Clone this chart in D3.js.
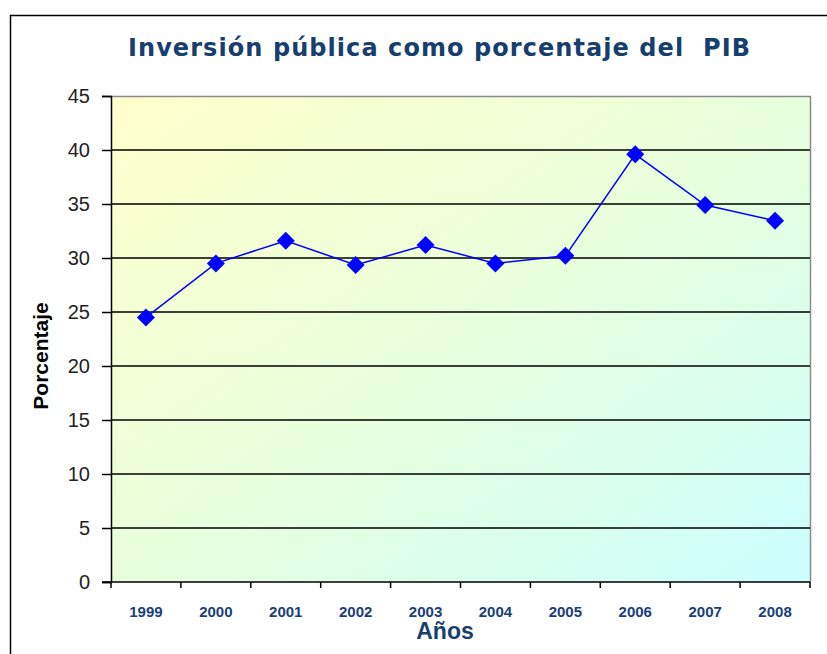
<!DOCTYPE html>
<html><head><meta charset="utf-8">
<script src="https://cdn.jsdelivr.net/npm/d3@7"></script>
<style>body{margin:0;background:#fff}svg{display:block}</style>
</head><body>
<svg id="c" width="827" height="654"></svg>
<script>
const years = ["1999","2000","2001","2002","2003","2004","2005","2006","2007","2008"];
const values = [24.5, 29.5, 31.6, 29.35, 31.2, 29.5, 30.2, 39.6, 34.9, 33.45];
const yTicks = [0,5,10,15,20,25,30,35,40,45];

const svg = d3.select("#c");
const m = {left:111, right:810, top:96, bottom:582};

// outer frame
svg.append("rect").attr("x",10.5).attr("y",15.5).attr("width",840).attr("height",700)
  .attr("fill","#fff").attr("stroke","#000").attr("stroke-width",1.5);

const defs = svg.append("defs");
const g = defs.append("linearGradient").attr("id","bg")
  .attr("x1","0").attr("y1","0").attr("x2","1").attr("y2","1");
g.append("stop").attr("offset","0").attr("stop-color","#ffffcc");
g.append("stop").attr("offset","0.5").attr("stop-color","#e8ffdc");
g.append("stop").attr("offset","1").attr("stop-color","#ccffff");

const x = d3.scaleBand().domain(years).range([m.left, m.right]);
const y = d3.scaleLinear().domain([0,45]).range([m.bottom, m.top]);

svg.append("rect").attr("x",m.left).attr("y",m.top).attr("width",m.right-m.left)
  .attr("height",m.bottom-m.top).attr("fill","url(#bg)");
// gray border top/right
svg.append("path").attr("d",`M${m.left},${m.top+0.5}H${m.right+0.5}V${m.bottom}`)
  .attr("fill","none").attr("stroke","#8a8a8a").attr("stroke-width",1.5);

// gridlines
svg.append("g").selectAll("line").data(yTicks.filter(d=>d>0 && d<45)).join("line")
  .attr("x1",m.left).attr("x2",m.right).attr("y1",d=>y(d)).attr("y2",d=>y(d))
  .attr("stroke","#000").attr("stroke-width",1.5);

// y axis
const ya = svg.append("g").attr("transform",`translate(${m.left},0)`)
  .call(d3.axisLeft(y).tickValues(yTicks).tickSize(9).tickPadding(12));
ya.select(".domain").attr("stroke","#000").attr("stroke-width",1.5);
ya.selectAll(".tick line").attr("stroke","#000").attr("stroke-width",1.5);
ya.selectAll("text").attr("font-family","Liberation Sans, Arial").attr("font-size",20)
  .attr("fill","#222");

// x axis
const xa = svg.append("g").attr("transform",`translate(0,${m.bottom})`)
  .call(d3.axisBottom(x).tickSize(0).tickPadding(24));
xa.select(".domain").remove();
svg.append("line").attr("x1",m.left-9).attr("x2",m.right).attr("y1",m.bottom).attr("y2",m.bottom)
  .attr("stroke","#000").attr("stroke-width",1.5);
const bounds = years.map(d=>x(d)).concat([m.right]);
svg.append("g").selectAll("line").data(bounds).join("line")
  .attr("x1",d=>d).attr("x2",d=>d).attr("y1",m.bottom).attr("y2",m.bottom+6)
  .attr("stroke","#000").attr("stroke-width",1.5);
xa.selectAll("text").attr("font-family","Liberation Sans Narrow, Arial").attr("font-size",15)
  .attr("font-weight","bold").attr("fill","#1a3f78");

// line
const cx = d => x(d) + x.bandwidth()/2;
svg.append("path").datum(values.map((v,i)=>[cx(years[i]), y(v)]))
  .attr("d", d3.line()).attr("fill","none").attr("stroke","#0000ff").attr("stroke-width",1.5);
svg.append("g").selectAll("path").data(values).join("path")
  .attr("transform",(d,i)=>`translate(${cx(years[i])},${y(d)})`)
  .attr("d","M0,-9L9,0L0,9L-9,0Z").attr("fill","#0000ff");

// title
svg.append("text").attr("x",128).attr("y",56)
  .attr("font-family","DejaVu Sans").attr("font-weight","bold")
  .attr("font-size",24).attr("fill","#173f6e").attr("xml:space","preserve")
  .attr("textLength",622).attr("lengthAdjust","spacing")
  .text("Inversión pública como porcentaje del  PIB");

svg.append("text").attr("transform","translate(48,356) rotate(-90)").attr("text-anchor","middle")
  .attr("font-family","Liberation Sans Narrow, Arial").attr("font-weight","bold").attr("font-size",21)
  .attr("fill","#000").text("Porcentaje");

svg.append("text").attr("x",445).attr("y",639).attr("text-anchor","middle")
  .attr("font-family","Liberation Sans Narrow, Arial").attr("font-weight","bold").attr("font-size",23)
  .attr("fill","#173f6e").text("Años");
</script>
</body></html>
